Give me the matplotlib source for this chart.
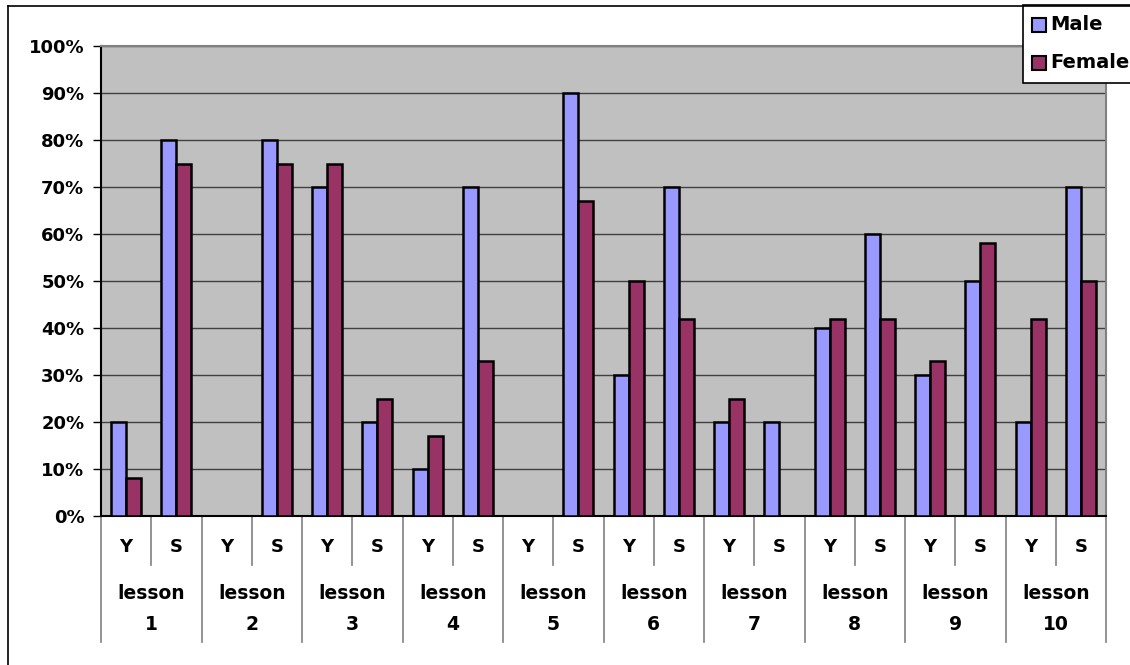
import numpy as np
import matplotlib
matplotlib.use("Agg")
import matplotlib.pyplot as plt
from matplotlib.lines import Line2D
from matplotlib.patches import Rectangle

lessons = [f"lesson\n{i}" for i in range(1, 11)]
sub_labels = ["Y", "S"]
male = [20, 80, 0, 80, 70, 20, 10, 70, 0, 90,
        30, 70, 20, 20, 40, 60, 30, 50, 20, 70]
female = [8, 75, 0, 75, 75, 25, 17, 33, 0, 67,
          50, 42, 25, 0, 42, 42, 33, 58, 42, 50]
y_ticks = list(range(0, 101, 10))
series = ["Male", "Female"]

MALE_C = "#9999FF"
FEMALE_C = "#993366"
W, H = 1130, 665

plt.rcParams["font.family"] = ["DejaVu Sans"]
plt.rcParams["font.weight"] = "bold"

fig = plt.figure(figsize=(W / 100, H / 100), dpi=100)
ax = fig.add_axes([101 / W, (H - 516) / H, (1106 - 101) / W, (516 - 46) / H])
ax.set_facecolor("#C0C0C0")

x = np.arange(len(male))
bw = 0.3
ax.bar(x - bw / 2, male, bw, color=MALE_C, edgecolor="black", lw=1.8, zorder=3)
ax.bar(x + bw / 2, female, bw, color=FEMALE_C, edgecolor="black", lw=1.8, zorder=3)

ax.set_xlim(-0.5, len(male) - 0.5)
ax.set_ylim(0, 100)
ax.set_yticks(y_ticks)
ax.set_yticklabels([f"{t}%" for t in y_ticks], fontsize=13, fontweight="bold")
ax.tick_params(axis="y", direction="out", length=6, width=1, pad=6)
ax.set_xticks([])
ax.yaxis.grid(True, color="#404040", lw=1)
ax.set_axisbelow(True)
for s in ("left", "bottom"):
    ax.spines[s].set_color("black")
    ax.spines[s].set_linewidth(1.5)
for s in ("top", "right"):
    ax.spines[s].set_color("#808080")
    ax.spines[s].set_linewidth(1.5)

# two-level category axis drawn by hand
tr = ax.get_xaxis_transform()
for i in range(len(male)):
    ax.text(i, -0.066, sub_labels[i % 2], transform=tr, ha="center", va="center",
            fontsize=13, fontweight="bold")
for i in range(len(male) + 1):
    bottom = -0.268 if i % 2 == 0 else -0.104
    ax.add_line(Line2D([i - 0.5, i - 0.5], [0, bottom], transform=tr,
                       color="#808080", lw=1.2, clip_on=False))
for j, name in enumerate(lessons):
    ax.text(2 * j + 0.5, -0.198, name, transform=tr, ha="center", va="center",
            fontsize=13.5, fontweight="bold", linespacing=1.75)

# outer chart border
fig.add_artist(Line2D([8 / W, 8 / W], [0, 1 - 6 / H], color="black", lw=1.2))
fig.add_artist(Line2D([8 / W, 1], [1 - 6 / H, 1 - 6 / H], color="black", lw=1.2))


def px(xp, yp):
    return xp / W, 1 - yp / H


# legend box, drawn in pixel units
fig.add_artist(Rectangle(px(1023, 83), 120 / W, 78 / H, facecolor="white",
                         edgecolor="black", lw=1.2))
for k, (name, col) in enumerate(zip(series, [MALE_C, FEMALE_C])):
    yc = 25 + 38 * k
    fig.add_artist(Rectangle(px(1032, yc + 7), 14 / W, 14 / H, facecolor=col,
                             edgecolor="black", lw=1.5))
    fig.text(*px(1050, yc), name, ha="left", va="center", fontsize=14,
             fontweight="bold")

fig.savefig("out.png", dpi=100)
